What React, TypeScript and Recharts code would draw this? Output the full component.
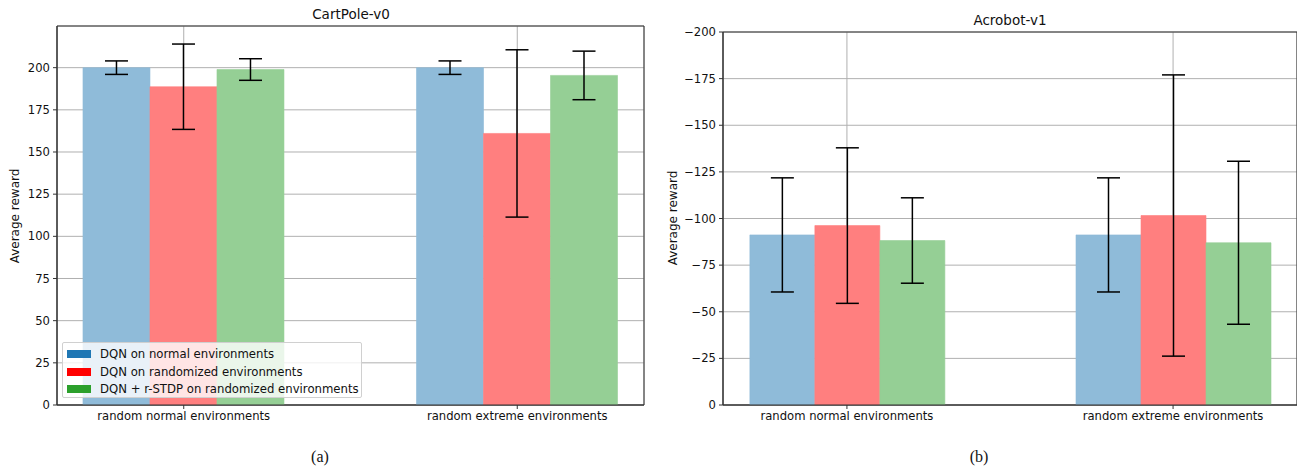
import {
  BarChart,
  Bar,
  XAxis,
  YAxis,
  CartesianGrid,
  ErrorBar,
  ReferenceArea,
} from "recharts";

const categories = ["random normal environments", "random extreme environments"];

const seriesNames = [
  "DQN on normal environments",
  "DQN on randomized environments",
  "DQN + r-STDP on randomized environments",
];
const legendColors = ["#1f77b4", "#ff0000", "#2ca02c"];
const barColors = ["#8fbbd9", "#ff7f7f", "#95cf95"];

// CartPole-v0 (mean / std per category)
const cartNormal = [200, 200];
const cartNormalErr = [4, 4];
const cartRandom = [188.7, 161];
const cartRandomErr = [25.3, 49.6];
const cartStdp = [198.9, 195.4];
const cartStdpErr = [6.4, 14.4];

// Acrobot-v1
const acroNormal = [-91.2, -91.2];
const acroNormalErr = [30.6, 30.6];
const acroRandom = [-96.2, -101.6];
const acroRandomErr = [41.7, 75.4];
const acroStdp = [-88.2, -87];
const acroStdpErr = [22.9, 43.7];

const cartTicks = [0, 25, 50, 75, 100, 125, 150, 175, 200];
const acroTicks = [-200, -175, -150, -125, -100, -75, -50, -25, 0];

const X_DOMAIN: [number, number] = [-0.38, 1.38];
const FONT = "'DejaVu Sans', sans-serif";
const TICK_FONT = 11.6;

function buildRows(means: number[][], errs: number[][]) {
  return categories.map((name, i) => ({
    x: i,
    name,
    s0: means[0][i],
    e0: errs[0][i],
    s1: means[1][i],
    e1: errs[1][i],
    s2: means[2][i],
    e2: errs[2][i],
  }));
}

const cartData = buildRows([cartNormal, cartRandom, cartStdp], [cartNormalErr, cartRandomErr, cartStdpErr]);
const acroData = buildRows([acroNormal, acroRandom, acroStdp], [acroNormalErr, acroRandomErr, acroStdpErr]);

const minus = (v: number) => String(v).replace("-", "\u2212");

interface PanelProps {
  data: ReturnType<typeof buildRows>;
  width: number;
  height: number;
  top: number;
  right: number;
  yWidth: number;
  yDomain: [number, number];
  yTicks: number[];
  reversed?: boolean;
  barSize: number;
}

function Panel({ data, width, height, top, right, yWidth, yDomain, yTicks, reversed, barSize }: PanelProps) {
  return (
    <BarChart
      width={width}
      height={height}
      data={data}
      margin={{ top, right, left: 0, bottom: 0 }}
      barSize={barSize}
      barGap={0}
      style={{ fontFamily: FONT }}
    >
      <XAxis
        type="number"
        dataKey="x"
        domain={X_DOMAIN}
        ticks={[0, 1]}
        allowDataOverflow
        tickFormatter={(v: number) => categories[v] ?? ""}
        height={25}
        tickSize={4}
        tickMargin={3}
        stroke="#333"
        tick={{ fill: "#111", fontSize: TICK_FONT }}
      />
      <YAxis
        type="number"
        domain={yDomain}
        ticks={yTicks}
        reversed={reversed}
        allowDataOverflow
        width={yWidth}
        tickSize={4}
        tickMargin={3}
        stroke="#333"
        tickFormatter={minus}
        tick={{ fill: "#111", fontSize: TICK_FONT }}
      />
      {[0, 1, 2].map((k) => (
        <Bar
          key={k}
          dataKey={`s${k}`}
          fill={barColors[k]}
          stroke={barColors[k]}
          strokeWidth={0.6}
          isAnimationActive={false}
        >
          <ErrorBar dataKey={`e${k}`} width={11.5} stroke="#000" strokeWidth={1.5} />
        </Bar>
      ))}
      <CartesianGrid stroke="#b0b0b0" strokeWidth={1} />
      <ReferenceArea
        x1={X_DOMAIN[0]}
        x2={X_DOMAIN[1]}
        y1={yDomain[0]}
        y2={yDomain[1]}
        fill="none"
        fillOpacity={0}
        stroke="#333"
        strokeWidth={1}
        ifOverflow="visible"
      />
    </BarChart>
  );
}

const abs = (left: number, top: number): React.CSSProperties => ({ position: "absolute", left, top });

export default function App() {
  return (
    <div style={{ position: "absolute", left: 0, top: 0, width: 1297, height: 470, background: "#fff", fontFamily: FONT, color: "#111" }}>
      <div style={abs(0, 0)}>
        <Panel
          data={cartData}
          width={650}
          height={430}
          top={26}
          right={6}
          yWidth={57}
          yDomain={[0, 224.7]}
          yTicks={cartTicks}
          barSize={67}
        />
      </div>
      <div style={abs(650, 0)}>
        <Panel
          data={acroData}
          width={647}
          height={430}
          top={32}
          right={0}
          yWidth={73}
          yDomain={[-200, 0]}
          yTicks={acroTicks}
          reversed
          barSize={65}
        />
      </div>

      {/* titles */}
      <div style={{ ...abs(351, 14), transform: "translate(-50%, -50%)", fontSize: 13.5, whiteSpace: "nowrap" }}>CartPole-v0</div>
      <div style={{ ...abs(1010, 20), transform: "translate(-50%, -50%)", fontSize: 13.5, whiteSpace: "nowrap" }}>Acrobot-v1</div>

      {/* y labels */}
      <div style={{ ...abs(15, 216), transform: "translate(-50%, -50%) rotate(-90deg)", fontSize: 12, whiteSpace: "nowrap" }}>Average reward</div>
      <div style={{ ...abs(673, 218), transform: "translate(-50%, -50%) rotate(-90deg)", fontSize: 12, whiteSpace: "nowrap" }}>Average reward</div>

      {/* legend */}
      <div
        style={{
          ...abs(62, 342),
          width: 300,
          height: 56,
          background: "rgba(255,255,255,0.8)",
          border: "1px solid #d0d0d0",
          borderRadius: 2,
          boxSizing: "border-box",
          paddingTop: 2,
        }}
      >
        {seriesNames.map((name, k) => (
          <div key={name} style={{ display: "flex", alignItems: "center", height: 17.7, fontSize: 11.7, whiteSpace: "nowrap" }}>
            <span style={{ display: "inline-block", width: 24, height: 8, background: legendColors[k], marginLeft: 4, marginRight: 9 }} />
            {name}
          </div>
        ))}
      </div>

      {/* sub captions */}
      <div style={{ ...abs(320, 457), transform: "translate(-50%, -50%)", fontSize: 16, fontFamily: "'Liberation Serif', serif" }}>(a)</div>
      <div style={{ ...abs(979, 457), transform: "translate(-50%, -50%)", fontSize: 16, fontFamily: "'Liberation Serif', serif" }}>(b)</div>
    </div>
  );
}
